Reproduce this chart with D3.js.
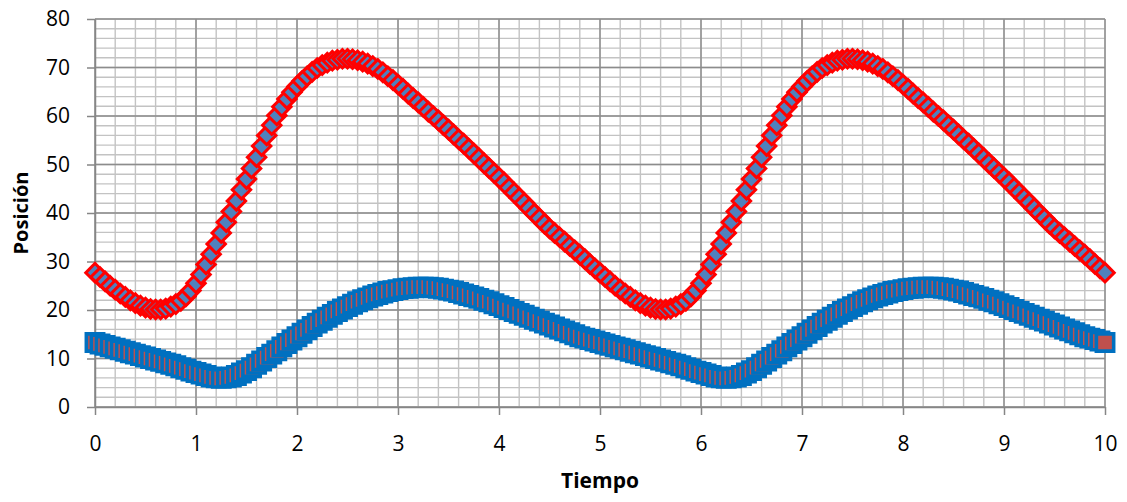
<!DOCTYPE html>
<html>
<head>
<meta charset="utf-8">
<script src="https://cdn.jsdelivr.net/npm/d3@7"></script>
<style>
  body { margin: 0; background: #fff; }
  text { font-family: "Open Sans", sans-serif; fill: #000; }
</style>
</head>
<body>
<script>
// tiempo (s)
var tiempo = [
  0,0.05,0.1,0.15,0.2,0.25,0.3,0.35,0.4,0.45,0.5,0.55,0.6,0.65,0.7,0.75,0.8,0.85,0.9,0.95,
  1,1.05,1.1,1.15,1.2,1.25,1.3,1.35,1.4,1.45,1.5,1.55,1.6,1.65,1.7,1.75,1.8,1.85,1.9,1.95,
  2,2.05,2.1,2.15,2.2,2.25,2.3,2.35,2.4,2.45,2.5,2.55,2.6,2.65,2.7,2.75,2.8,2.85,2.9,2.95,
  3,3.05,3.1,3.15,3.2,3.25,3.3,3.35,3.4,3.45,3.5,3.55,3.6,3.65,3.7,3.75,3.8,3.85,3.9,3.95,
  4,4.05,4.1,4.15,4.2,4.25,4.3,4.35,4.4,4.45,4.5,4.55,4.6,4.65,4.7,4.75,4.8,4.85,4.9,4.95,
  5,5.05,5.1,5.15,5.2,5.25,5.3,5.35,5.4,5.45,5.5,5.55,5.6,5.65,5.7,5.75,5.8,5.85,5.9,5.95,
  6,6.05,6.1,6.15,6.2,6.25,6.3,6.35,6.4,6.45,6.5,6.55,6.6,6.65,6.7,6.75,6.8,6.85,6.9,6.95,
  7,7.05,7.1,7.15,7.2,7.25,7.3,7.35,7.4,7.45,7.5,7.55,7.6,7.65,7.7,7.75,7.8,7.85,7.9,7.95,
  8,8.05,8.1,8.15,8.2,8.25,8.3,8.35,8.4,8.45,8.5,8.55,8.6,8.65,8.7,8.75,8.8,8.85,8.9,8.95,
  9,9.05,9.1,9.15,9.2,9.25,9.3,9.35,9.4,9.45,9.5,9.55,9.6,9.65,9.7,9.75,9.8,9.85,9.9,9.95,
  10
];

// serie superior (rombos)
var posicionA = [
  27.7,26.8,25.9,25.0,24.2,23.4,22.7,22.0,21.4,20.9,20.5,20.2,20.1,20.1,20.3,20.7,21.2,21.9,22.8,24.0,
  25.5,27.3,29.4,31.5,33.6,35.9,38.1,40.3,42.5,44.8,47.0,49.2,51.5,53.8,56.0,58.1,60.1,61.9,63.5,64.9,
  66.1,67.2,68.2,69.1,69.9,70.5,71.0,71.4,71.6,71.8,71.8,71.7,71.5,71.2,70.8,70.3,69.7,69.0,68.2,67.4,
  66.5,65.6,64.6,63.7,62.8,61.9,60.9,60.0,59.1,58.1,57.2,56.2,55.2,54.3,53.3,52.3,51.3,50.3,49.3,48.3,
  47.3,46.3,45.2,44.2,43.1,42.1,41.0,39.9,38.9,37.8,36.8,35.9,35.0,34.1,33.2,32.3,31.4,30.5,29.5,28.6,
  27.7,26.8,25.9,25.0,24.2,23.4,22.7,22.0,21.4,20.9,20.5,20.2,20.1,20.1,20.3,20.7,21.2,21.9,22.8,24.0,
  25.5,27.3,29.4,31.5,33.6,35.9,38.1,40.3,42.5,44.8,47.0,49.2,51.5,53.8,56.0,58.1,60.1,61.9,63.5,64.9,
  66.1,67.2,68.2,69.1,69.9,70.5,71.0,71.4,71.6,71.8,71.8,71.7,71.5,71.2,70.8,70.3,69.7,69.0,68.2,67.4,
  66.5,65.6,64.6,63.7,62.8,61.9,60.9,60.0,59.1,58.1,57.2,56.2,55.2,54.3,53.3,52.3,51.3,50.3,49.3,48.3,
  47.3,46.3,45.2,44.2,43.1,42.1,41.0,39.9,38.9,37.8,36.8,35.9,35.0,34.1,33.2,32.3,31.4,30.5,29.5,28.6,
  27.7
];

// serie inferior (cuadrados)
var posicionB = [
  13.3,13.0,12.7,12.4,12.1,11.8,11.5,11.2,10.9,10.6,10.3,10.0,9.7,9.4,9.1,8.8,8.5,8.1,7.8,7.4,
  7.1,6.8,6.5,6.2,6.0,5.9,6.0,6.2,6.5,7.0,7.5,8.1,8.8,9.5,10.2,10.9,11.6,12.4,13.1,13.8,
  14.5,15.2,15.9,16.6,17.3,17.9,18.5,19.1,19.7,20.2,20.7,21.2,21.7,22.1,22.5,22.9,23.2,23.5,23.8,24.0,
  24.2,24.4,24.5,24.6,24.7,24.7,24.7,24.6,24.5,24.3,24.1,23.9,23.6,23.3,23.0,22.7,22.4,22.0,21.7,21.3,
  20.9,20.5,20.1,19.7,19.3,18.9,18.5,18.1,17.7,17.3,16.9,16.5,16.1,15.7,15.3,14.9,14.5,14.2,13.9,13.6,
  13.3,13.0,12.7,12.4,12.1,11.8,11.5,11.2,10.9,10.6,10.3,10.0,9.7,9.4,9.1,8.8,8.5,8.1,7.8,7.4,
  7.1,6.8,6.5,6.2,6.0,5.9,6.0,6.2,6.5,7.0,7.5,8.1,8.8,9.5,10.2,10.9,11.6,12.4,13.1,13.8,
  14.5,15.2,15.9,16.6,17.3,17.9,18.5,19.1,19.7,20.2,20.7,21.2,21.7,22.1,22.5,22.9,23.2,23.5,23.8,24.0,
  24.2,24.4,24.5,24.6,24.7,24.7,24.7,24.6,24.5,24.3,24.1,23.9,23.6,23.3,23.0,22.7,22.4,22.0,21.7,21.3,
  20.9,20.5,20.1,19.7,19.3,18.9,18.5,18.1,17.7,17.3,16.9,16.5,16.1,15.7,15.3,14.9,14.5,14.2,13.9,13.6,
  13.3
];

var xTicks = [0, 1, 2, 3, 4, 5, 6, 7, 8, 9, 10];
var yTicks = [0, 10, 20, 30, 40, 50, 60, 70, 80];

var margin = {top: 19, right: 22, bottom: 95, left: 95},
    width = 1127 - margin.left - margin.right,
    height = 502 - margin.top - margin.bottom;

var svg = d3.select('body').append('svg')
    .attr('width', 1127)
    .attr('height', 502);

var g = svg.append('g')
    .attr('transform', 'translate(' + margin.left + ',' + margin.top + ')');

var x = d3.scaleLinear().domain([0, 10]).range([0, width]);
var y = d3.scaleLinear().domain([0, 80]).range([height, 0]);

// rejilla secundaria
var minor = g.append('g').attr('class', 'minor-grid')
    .attr('stroke', '#c3c3c3').attr('stroke-width', 1.4);
minor.selectAll('.vx').data(x.ticks(50)).enter().append('line')
    .attr('x1', function(d) { return x(d); }).attr('x2', function(d) { return x(d); })
    .attr('y1', 0).attr('y2', height);
minor.selectAll('.hy').data(y.ticks(40)).enter().append('line')
    .attr('y1', function(d) { return y(d); }).attr('y2', function(d) { return y(d); })
    .attr('x1', 0).attr('x2', width);

// rejilla principal
var major = g.append('g').attr('class', 'major-grid')
    .attr('stroke', '#8c8c8c').attr('stroke-width', 1.4);
major.selectAll('.vx').data(xTicks).enter().append('line')
    .attr('x1', function(d) { return x(d); }).attr('x2', function(d) { return x(d); })
    .attr('y1', 0).attr('y2', height);
major.selectAll('.hy').data(yTicks).enter().append('line')
    .attr('y1', function(d) { return y(d); }).attr('y2', function(d) { return y(d); })
    .attr('x1', 0).attr('x2', width);

// ejes
var xAxis = d3.axisBottom(x).tickValues(xTicks).tickSize(8).tickSizeOuter(0).tickPadding(21);
var yAxis = d3.axisLeft(y).tickValues(yTicks).tickSize(8).tickSizeOuter(0).tickPadding(17);

var gx = g.append('g')
    .attr('transform', 'translate(0,' + height + ')')
    .call(xAxis);
var gy = g.append('g').call(yAxis);

[gx, gy].forEach(function(a) {
  a.select('.domain').attr('stroke', '#868686').attr('stroke-width', 1.5);
  a.selectAll('.tick line').attr('stroke', '#868686').attr('stroke-width', 1.5);
  a.selectAll('.tick text')
    .style('font-family', '"Open Sans", sans-serif')
    .style('font-size', '21px')
    .attr('fill', '#000');
});

// series
var puntosA = tiempo.map(function(t, i) { return [t, posicionA[i]]; });
var puntosB = tiempo.map(function(t, i) { return [t, posicionB[i]]; });

g.selectAll('.cuadrado').data(puntosB).enter().append('path')
    .attr('class', 'cuadrado')
    .attr('d', d3.symbol(d3.symbolSquare, 300))
    .attr('transform', function(d) { return 'translate(' + x(d[0]) + ',' + y(d[1]) + ')'; })
    .attr('fill', '#C0504D')
    .attr('stroke', '#0070C0')
    .attr('stroke-width', 3.6);

g.selectAll('.rombo').data(puntosA).enter().append('path')
    .attr('class', 'rombo')
    .attr('d', d3.symbol(d3.symbolSquare, 170))
    .attr('transform', function(d) { return 'translate(' + x(d[0]) + ',' + y(d[1]) + ') rotate(45)'; })
    .attr('fill', '#4F81BD')
    .attr('stroke', '#FF0000')
    .attr('stroke-width', 3);

// títulos de ejes
svg.append('text')
    .attr('x', margin.left + width / 2)
    .attr('y', 488)
    .attr('text-anchor', 'middle')
    .style('font-size', '21px')
    .style('font-weight', 'bold')
    .text('Tiempo');

svg.append('text')
    .attr('transform', 'translate(28,' + (margin.top + height / 2) + ') rotate(-90)')
    .attr('text-anchor', 'middle')
    .style('font-size', '20px')
    .style('font-weight', 'bold')
    .text('Posición');
</script>
</body>
</html>
